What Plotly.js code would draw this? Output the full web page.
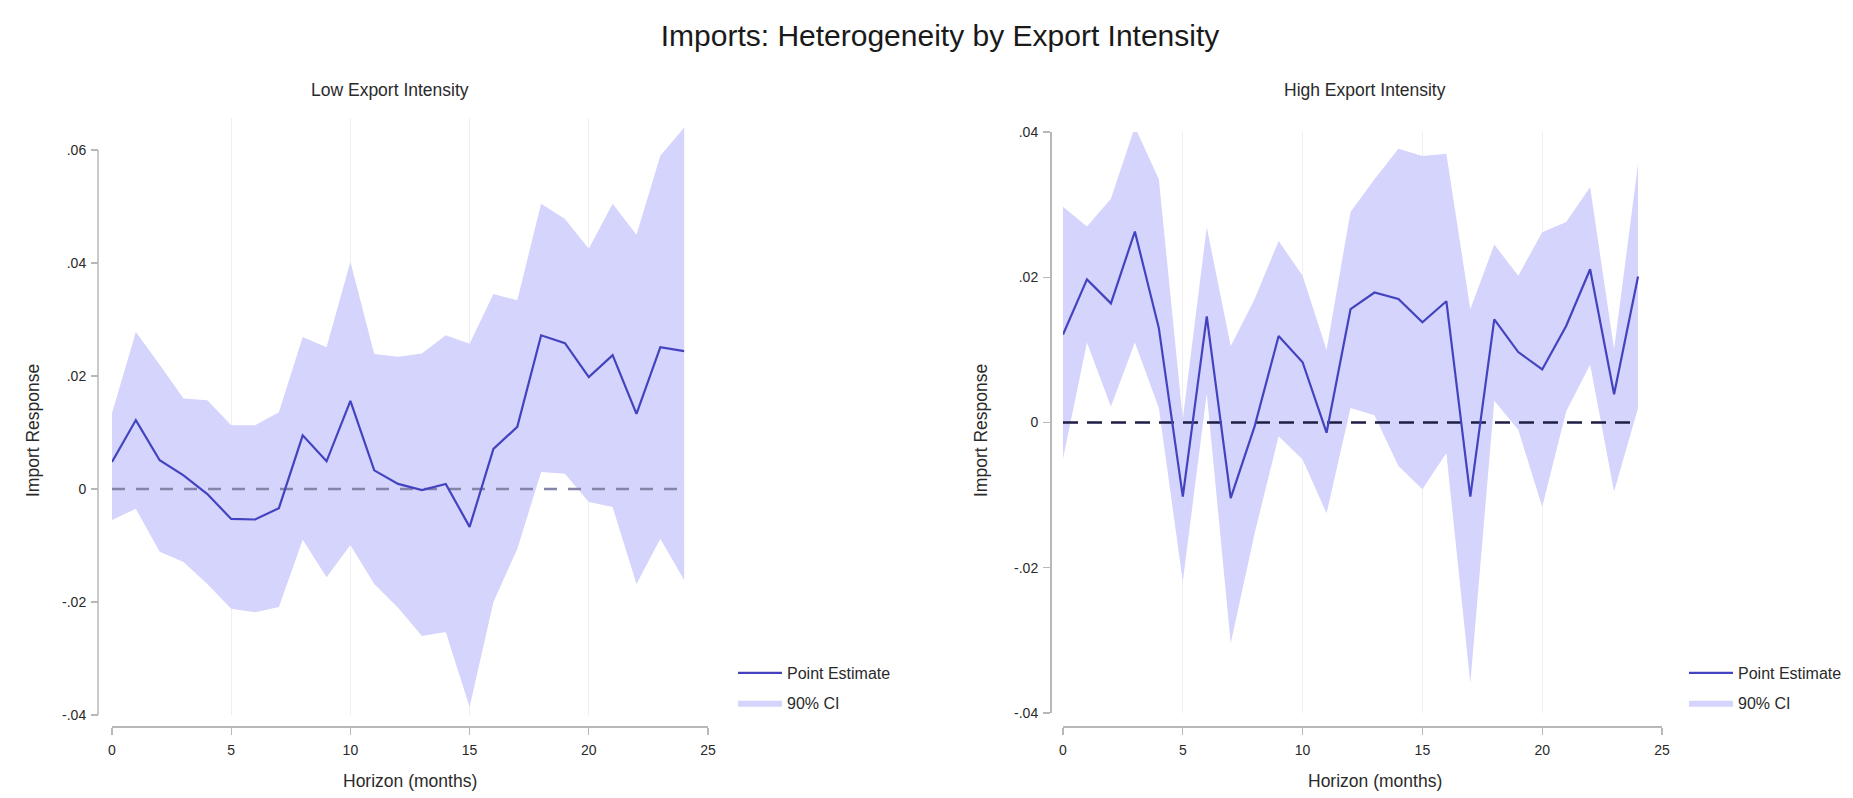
<!DOCTYPE html>
<html>
<head>
<meta charset="utf-8">
<script src="https://cdn.plot.ly/plotly-3.0.1.min.js"></script>
<style>
html,body{margin:0;padding:0;background:#ffffff;}
#chart{width:1853px;height:798px;}
</style>
</head>
<body>
<div id="chart"></div>
<script>
// ---------------- DATA ----------------
const horizons = [0,1,2,3,4,5,6,7,8,9,10,11,12,13,14,15,16,17,18,19,20,21,22,23,24];

const lowEstimate = [0.0048, 0.0122, 0.0051, 0.0024, -0.0009, -0.0053, -0.0054, -0.0034, 0.0095, 0.0049,
                     0.0156, 0.0033, 0.0009, -0.0002, 0.0009, -0.0067, 0.0071, 0.0110, 0.0272, 0.0258,
                     0.0198, 0.0237, 0.0133, 0.0251, 0.0244];
const lowUpper    = [0.0134, 0.0278, 0.0220, 0.0160, 0.0157, 0.0113, 0.0113, 0.0136, 0.0269, 0.0251,
                     0.0402, 0.0239, 0.0234, 0.0240, 0.0272, 0.0257, 0.0345, 0.0334, 0.0505, 0.0478,
                     0.0425, 0.0505, 0.0450, 0.0590, 0.0640];
const lowLower    = [-0.0055, -0.0035, -0.0111, -0.0129, -0.0168, -0.0212, -0.0218, -0.0209, -0.0090, -0.0156,
                     -0.0099, -0.0168, -0.0210, -0.0260, -0.0253, -0.0386, -0.0200, -0.0106, 0.0030, 0.0027,
                     -0.0023, -0.0032, -0.0168, -0.0088, -0.0161];

const highEstimate = [0.0121, 0.0197, 0.0164, 0.0263, 0.0130, -0.0102, 0.0146, -0.0104, -0.0005, 0.0119,
                      0.0083, -0.0014, 0.0156, 0.0179, 0.0170, 0.0138, 0.0167, -0.0102, 0.0142, 0.0097,
                      0.0073, 0.0133, 0.0211, 0.0039, 0.0201];
const highUpper    = [0.0297, 0.0270, 0.0308, 0.0407, 0.0335, 0.0005, 0.0269, 0.0105, 0.0170, 0.0250,
                      0.0202, 0.0100, 0.0290, 0.0335, 0.0377, 0.0367, 0.0370, 0.0156, 0.0245, 0.0202,
                      0.0262, 0.0276, 0.0324, 0.0101, 0.0356];
const highLower    = [-0.0050, 0.0110, 0.0022, 0.0110, 0.0020, -0.0219, 0.0040, -0.0304, -0.0152, -0.0019,
                      -0.0051, -0.0125, 0.0020, 0.0010, -0.0060, -0.0092, -0.0042, -0.0359, 0.0030, -0.0010,
                      -0.0116, 0.0015, 0.0080, -0.0095, 0.0020];

const xTickVals = [0, 5, 10, 15, 20, 25];
const xTickText = ['0', '5', '10', '15', '20', '25'];
const lowYTickVals = [0.06, 0.04, 0.02, 0, -0.02, -0.04];
const lowYTickText = ['.06', '.04', '.02', '0', '-.02', '-.04'];
const highYTickVals = [0.04, 0.02, 0, -0.02, -0.04];
const highYTickText = ['.04', '.02', '0', '-.02', '-.04'];

const mainTitle = 'Imports: Heterogeneity by Export Intensity';
const panelTitles = ['Low Export Intensity', 'High Export Intensity'];
const xTitle = 'Horizon (months)';
const yTitle = 'Import Response';
const seriesNames = ['Point Estimate', '90% CI'];

// ---------------- STYLE ----------------
const W = 1853, H = 798;
const FONT = 'Liberation Sans, Arial, Helvetica, sans-serif';
const fillColor = 'rgb(212,212,252)';
const lineColor = '#4343c0';
const axisColor = '#b8b8b8';
const textColor = '#2a2a2a';
const px = v => v / W;
const py = v => 1 - v / H;

const zeros = horizons.map(() => 0);

function panelTraces(upper, lower, est, xa, ya, legendId, zeroColor, zeroDash) {
  return [
    {x: horizons, y: upper, xaxis: xa, yaxis: ya, type: 'scatter', mode: 'lines',
     line: {width: 0, color: fillColor}, showlegend: false, hoverinfo: 'skip', legend: legendId},
    {x: horizons, y: lower, xaxis: xa, yaxis: ya, type: 'scatter', mode: 'lines',
     fill: 'tonexty', fillcolor: fillColor, line: {width: 0, color: fillColor},
     name: seriesNames[1], showlegend: true, legend: legendId, legendrank: 2,
     legendgroup: legendId + 'ci'},
    {x: horizons, y: zeros, xaxis: xa, yaxis: ya, type: 'scatter', mode: 'lines',
     line: {width: 2.5, color: zeroColor, dash: zeroDash}, showlegend: false, hoverinfo: 'skip', legend: legendId},
    {x: horizons, y: est, xaxis: xa, yaxis: ya, type: 'scatter', mode: 'lines',
     line: {width: 2.2, color: lineColor}, name: seriesNames[0], showlegend: true,
     legend: legendId, legendrank: 1, legendgroup: legendId + 'pe'}
  ];
}

const traces = [].concat(
  panelTraces(lowUpper, lowLower, lowEstimate, 'x', 'y', 'legend', '#8484a8', '13px,11px'),
  panelTraces(highUpper, highLower, highEstimate, 'x2', 'y2', 'legend2', '#1e1e44', '15px,9px')
);

function xAxis(x0, x1, yLine) {
  return {
    domain: [px(x0), px(x1)], range: [0, 25], anchor: 'free', position: py(yLine),
    showline: true, linecolor: axisColor, linewidth: 1.5,
    ticks: 'outside', ticklen: 7, tickcolor: axisColor, tickwidth: 1.2,
    ticklabelstandoff: 4,
    tickvals: xTickVals, ticktext: xTickText,
    tickfont: {family: FONT, size: 14, color: textColor},
    showgrid: true, gridcolor: '#efeff3', gridwidth: 1, zeroline: false, fixedrange: true
  };
}
function yAxis(yTop, yBot, range, vals, text, xLine, showLine) {
  return {
    domain: [py(yBot), py(yTop)], range: range, anchor: 'free', position: px(xLine),
    showline: showLine, linecolor: axisColor, linewidth: 1.5,
    ticks: 'outside', ticklen: 7, tickcolor: axisColor, tickwidth: 1.2,
    ticklabelstandoff: 2,
    tickvals: vals, ticktext: text,
    tickfont: {family: FONT, size: 14, color: textColor},
    showgrid: false, zeroline: false, fixedrange: true
  };
}

function legendCfg(x, y) {
  return {
    x: px(x), y: py(y), xanchor: 'left', yanchor: 'top',
    bgcolor: 'rgba(255,255,255,0)', borderwidth: 0,
    font: {family: FONT, size: 16, color: textColor},
    itemwidth: 44,
    traceorder: 'grouped', tracegroupgap: 6, itemclick: false, itemdoubleclick: false
  };
}

const annotations = [
  {text: panelTitles[0], x: px(390), y: py(90)},
  {text: panelTitles[1], x: px(1365), y: py(90)},
  {text: xTitle, x: px(410), y: py(781)},
  {text: xTitle, x: px(1375), y: py(781)},
  {text: yTitle, x: px(33), y: py(431), textangle: -90},
  {text: yTitle, x: px(981), y: py(431), textangle: -90}
].map(a => Object.assign({xref: 'paper', yref: 'paper', showarrow: false,
  xanchor: 'center', yanchor: 'middle',
  font: {family: FONT, size: 17.5, color: textColor}}, a));

// left y axis line spans only the labelled range (.06 to -.04), like the reference
const shapes = [
  {type: 'line', xref: 'paper', yref: 'y', x0: px(98), x1: px(98),
   y0: lowYTickVals[lowYTickVals.length - 1], y1: lowYTickVals[0],
   line: {color: axisColor, width: 1.5}, layer: 'above'}
];

// Left panel: extend the top so the CI above .06 is not clipped (150px = .06, 5650 px per unit)
const lowTopPx = 118;
const lowTop = 0.06 + (150 - lowTopPx) / 5650;

const layout = {
  width: W, height: H,
  margin: {l: 0, r: 0, t: 0, b: 0, pad: 0},
  paper_bgcolor: '#ffffff', plot_bgcolor: '#ffffff',
  font: {family: FONT, color: textColor},
  title: {text: mainTitle, x: px(940), xref: 'paper', xanchor: 'center',
          y: py(35), yref: 'container', yanchor: 'middle',
          font: {family: FONT, size: 30, color: '#1a1a1a'}},
  xaxis: xAxis(112, 708, 726),
  yaxis: yAxis(lowTopPx, 715, [-0.04, lowTop], lowYTickVals, lowYTickText, 98, false),
  xaxis2: xAxis(1063, 1662, 726),
  yaxis2: yAxis(132, 713, [-0.04, 0.04], highYTickVals, highYTickText, 1050, true),
  legend: legendCfg(733, 656),
  legend2: legendCfg(1684, 656),
  annotations: annotations,
  shapes: shapes,
  hovermode: false,
  showlegend: true
};

Plotly.newPlot('chart', traces, layout, {displayModeBar: false, staticPlot: true});
</script>
</body>
</html>
